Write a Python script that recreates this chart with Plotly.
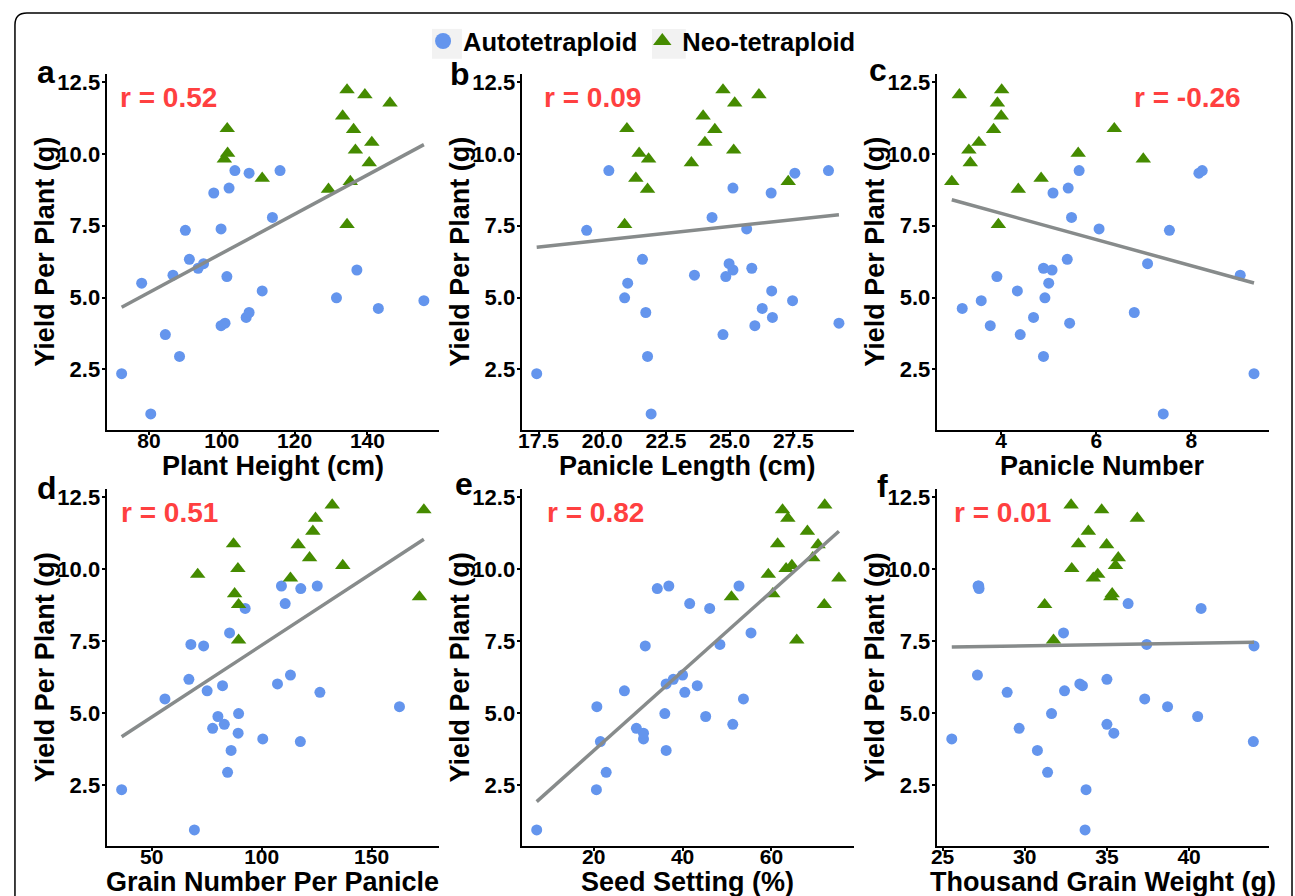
import numpy as np
import plotly.graph_objects as go

W, H = 1295, 896

# ---------------- data ----------------
# Yield per plant (g), one value per plant (same plants in every panel)
yield_auto = [0.95, 2.35, 2.95, 3.71, 4.02, 4.11, 4.31, 4.48, 4.62, 4.89, 4.99, 5.23, 5.50, 5.73,
              5.78, 5.96, 6.02, 6.18, 6.33, 7.34, 7.39, 7.79, 8.64, 8.81, 9.33, 9.42, 9.42]
yield_neo = [12.23, 12.06, 11.77, 11.32, 10.88, 10.85, 10.40, 10.13, 10.02, 9.82, 9.69, 9.15,
             9.04, 8.77, 7.54]

height_auto = [80.5, 72.5, 88.4, 84.5, 99.8, 100.9, 106.7, 107.5, 143.0, 155.5, 131.5, 111.1, 78.0,
               101.4, 86.6, 137.1, 93.5, 95.0, 91.1, 90.0, 99.8, 113.9, 97.8, 102.0, 107.5, 103.6, 116.0]
height_neo = [134.4, 139.3, 146.2, 133.2, 101.5, 136.2, 141.2, 136.7, 101.6, 100.7, 140.5, 111.1,
              135.3, 129.3, 134.4]

plength_auto = [21.92, 17.43, 21.78, 24.74, 25.99, 29.29, 26.68, 21.71, 26.28, 27.47, 20.88, 26.65,
                21.00, 24.85, 23.62, 25.13, 25.87, 24.98, 21.58, 19.39, 25.67, 24.31, 26.63, 25.13,
                27.56, 20.26, 28.88]
plength_neo = [24.74, 26.15, 25.20, 23.96, 20.97, 24.42, 24.03, 25.16, 21.45, 21.82, 23.50, 21.32,
               27.30, 21.78, 20.88]

pnumber_auto = [7.41, 9.32, 4.89, 4.40, 3.77, 5.44, 4.68, 6.80, 3.18, 3.58, 4.92, 4.34, 5.00, 3.91,
                9.03, 5.07, 4.89, 7.08, 5.39, 7.54, 6.06, 5.48, 5.09, 5.41, 8.16, 5.64, 8.23]
pnumber_neo = [4.01, 3.12, 3.92, 4.00, 6.38, 3.84, 3.53, 3.32, 5.62, 6.99, 3.35, 4.84, 2.96, 4.36, 3.94]

grain_auto = [69.4, 36.3, 84.5, 86.1, 117.6, 100.5, 89.3, 77.7, 83.0, 80.1, 89.5, 162.7, 56.0, 126.5,
              75.2, 82.2, 107.2, 66.9, 113.1, 73.6, 67.8, 85.4, 92.5, 110.7, 117.8, 109.0, 125.3]
grain_neo = [132.1, 173.8, 124.5, 123.3, 87.2, 116.6, 121.8, 136.9, 89.2, 70.9, 113.1, 87.7, 171.8,
             89.5, 89.5]

seed_auto = [7.16, 20.6, 22.8, 36.3, 21.5, 31.2, 31.2, 29.6, 51.3, 45.2, 36.0, 20.7, 53.7, 40.5, 26.9,
             43.3, 36.3, 37.9, 40.0, 31.6, 48.4, 55.4, 46.1, 41.6, 34.3, 36.9, 52.7]
seed_neo = [72.0, 62.5, 63.7, 68.1, 61.4, 70.5, 69.3, 64.6, 63.3, 59.3, 75.2, 60.3, 51.0, 71.9, 65.7]

tgw_auto = [33.67, 33.73, 31.39, 30.77, 43.91, 25.56, 35.42, 29.66, 35.00, 40.52, 31.63, 38.69, 37.30,
            28.93, 32.42, 33.51, 33.35, 35.00, 27.12, 43.95, 37.42, 32.36, 40.73, 36.29, 27.22, 27.16,
            27.20]
tgw_neo = [32.82, 34.68, 36.85, 33.87, 33.27, 34.98, 35.69, 35.52, 32.86, 34.44, 34.17, 35.32, 35.24,
           31.21, 31.75]

panel_letters = ["a", "b", "c", "d", "e", "f"]
x_titles = ["Plant Height (cm)", "Panicle Length (cm)", "Panicle Number",
            "Grain Number Per Panicle", "Seed Setting (%)", "Thousand Grain Weight (g)"]
r_labels = ["r = 0.52", "r = 0.09", "r = -0.26", "r = 0.51", "r = 0.82", "r = 0.01"]
x_tickvals = [[80, 100, 120, 140], [17.5, 20.0, 22.5, 25.0, 27.5], [4, 6, 8],
              [50, 100, 150], [20, 40, 60], [25, 30, 35, 40]]
y_tickvals = [2.5, 5.0, 7.5, 10.0, 12.5]
group_names = ["Autotetraploid", "Neo-tetraploid"]

x_auto_all = [height_auto, plength_auto, pnumber_auto, grain_auto, seed_auto, tgw_auto]
x_neo_all = [height_neo, plength_neo, pnumber_neo, grain_neo, seed_neo, tgw_neo]

# ---------------- layout constants (pixels) ----------------
col_px = [(101, 435), (518, 852), (935, 1269)]
row_px = [(70, 428), (487, 846)]
letter_pos = [(40, 68), (456, 70), (876, 66), (41, 486), (460, 482), (881, 484)]
r_pos = [(113, "left"), (538, "left"), (1243, "right"), (114, "left"), (542, "left"), (950, "left")]

BLUE = "#6495ED"
GREEN = "#458B00"
RED = "#FF4040"
LINE = "#878B8B"
FONT = "Liberation Sans"


def px(xp):
    return xp / W


def py(yp):
    return 1 - yp / H


def expand(vals):
    lo, hi = min(vals), max(vals)
    s = hi - lo
    return [lo - 0.05 * s, hi + 0.05 * s]


fig = go.Figure()
y_all = yield_auto + yield_neo
yrange = expand(y_all)
annotations = []

for i in range(6):
    r, c = divmod(i, 3)
    sfx = "" if i == 0 else str(i + 1)
    xa, ya = "x" + sfx, "y" + sfx
    xs_a, xs_n = x_auto_all[i], x_neo_all[i]
    fig.add_trace(go.Scatter(x=xs_a, y=yield_auto, mode="markers", xaxis=xa, yaxis=ya,
                             name=group_names[0], showlegend=False,
                             marker=dict(color=BLUE, size=11, symbol="circle", line=dict(width=0))))
    fig.add_trace(go.Scatter(x=xs_n, y=yield_neo, mode="markers", xaxis=xa, yaxis=ya,
                             name=group_names[1], showlegend=False,
                             marker=dict(color=GREEN, size=13.5, symbol="triangle-up", line=dict(width=0))))
    # linear fit over all plants
    xx = np.array(xs_a + xs_n, dtype=float)
    yy = np.array(y_all, dtype=float)
    slope, icpt = np.polyfit(xx, yy, 1)
    xl = np.array([xx.min(), xx.max()])
    fig.add_trace(go.Scatter(x=xl, y=slope * xl + icpt, mode="lines", xaxis=xa, yaxis=ya,
                             showlegend=False, line=dict(color=LINE, width=3.5), hoverinfo="skip"))

    x0p, x1p = col_px[c]
    y0p, y1p = row_px[r]
    axis_common = dict(showline=True, linecolor="black", linewidth=2, ticks="outside", ticklen=3,
                       tickwidth=1.5, tickcolor="black", showgrid=False, zeroline=False)
    fmt = ".1f" if i == 1 else "d"
    fig.update_layout(**{
        ("xaxis" + sfx): dict(domain=[px(x0p), px(x1p)], anchor=ya, range=expand(xs_a + xs_n),
                              tickvals=x_tickvals[i], tickformat=fmt, ticklabelstandoff=-12,
                              tickfont=dict(family=FONT, size=21, color="black", weight="bold"),
                              **axis_common),
        ("yaxis" + sfx): dict(domain=[py(y1p), py(y0p)], anchor=xa, range=yrange,
                              tickvals=y_tickvals, tickformat=".1f", ticklabelstandoff=-3,
                              tickfont=dict(family=FONT, size=22, color="black", weight="bold"),
                              **axis_common),
    })

    # axis titles
    annotations.append(dict(text=x_titles[i], xref="paper", yref="paper", x=px((x0p + x1p) / 2),
                            y=py(y1p + 36), xanchor="center", yanchor="middle", showarrow=False,
                            font=dict(family=FONT, size=27, color="black", weight="bold")))
    annotations.append(dict(text="Yield Per Plant (g)", xref="paper", yref="paper", x=px(x0p - 62),
                            y=py((y0p + y1p) / 2), xanchor="center", yanchor="middle", textangle=-90,
                            showarrow=False,
                            font=dict(family=FONT, size=27, color="black", weight="bold")))
    # panel letter
    lx, ly = letter_pos[i]
    annotations.append(dict(text=panel_letters[i], xref="paper", yref="paper", x=px(lx), y=py(ly),
                            xanchor="center", yanchor="middle", showarrow=False,
                            font=dict(family=FONT, size=32, color="black", weight="bold")))
    # r annotation
    rx, ranc = r_pos[i]
    annotations.append(dict(text=r_labels[i], xref="paper", yref="paper", x=px(rx), y=py(y0p + 24),
                            xanchor=ranc, yanchor="middle", showarrow=False,
                            font=dict(family=FONT, size=28, color=RED, weight="bold")))

# legend entries (legend only)
fig.add_trace(go.Scatter(x=[None], y=[None], mode="markers", name=group_names[0],
                         marker=dict(color=BLUE, size=20, symbol="circle")))
fig.add_trace(go.Scatter(x=[None], y=[None], mode="markers", name=group_names[1],
                         marker=dict(color=GREEN, size=20, symbol="triangle-up")))

# outer rounded frame
fx0, fx1, fyt, fyb = px(9), px(1292), py(9), py(910)
rxp, ryp = 12 / W, 12 / H
frame = (f"M {fx0 + rxp},{fyt} L {fx1 - rxp},{fyt} Q {fx1},{fyt} {fx1},{fyt - ryp} "
         f"L {fx1},{fyb + ryp} Q {fx1},{fyb} {fx1 - rxp},{fyb} L {fx0 + rxp},{fyb} "
         f"Q {fx0},{fyb} {fx0},{fyb + ryp} L {fx0},{fyt - ryp} Q {fx0},{fyt} {fx0 + rxp},{fyt} Z")
shapes = [dict(type="path", path=frame, xref="paper", yref="paper", line=dict(color="black", width=1.5)),
          dict(type="rect", xref="paper", yref="paper", x0=px(428), x1=px(458), y0=py(55), y1=py(25),
               fillcolor="#F2F2F2", line=dict(width=0), layer="below"),
          dict(type="rect", xref="paper", yref="paper", x0=px(649), x1=px(683), y0=py(55), y1=py(25),
               fillcolor="#F2F2F2", line=dict(width=0), layer="below")]

fig.update_layout(
    width=W, height=H, margin=dict(l=0, r=0, t=0, b=0),
    paper_bgcolor="white", plot_bgcolor="white",
    showlegend=True,
    legend=dict(orientation="h", x=px(419), y=py(14), xanchor="left", yanchor="top",
                bgcolor="rgba(0,0,0,0)", font=dict(family=FONT, size=25.5, color="black", weight="bold"),
                itemclick=False),
    annotations=annotations, shapes=shapes,
)

fig.write_html("out.html", config={"displayModeBar": False},
               post_script="document.body.style.margin='0px';document.body.style.overflow='hidden';")
